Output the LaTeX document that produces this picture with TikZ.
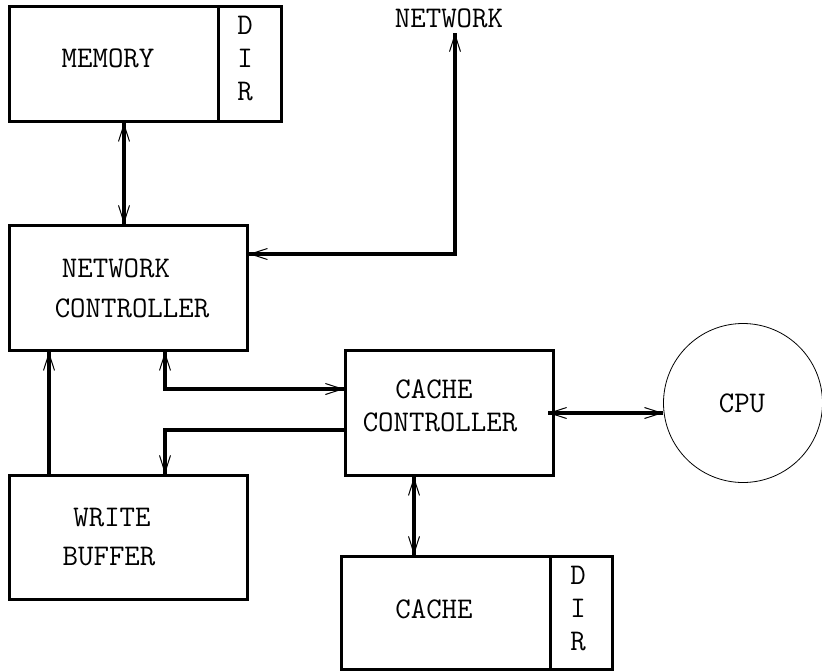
\documentclass[tikz,border=0pt]{standalone}
\usetikzlibrary{arrows.meta}
\begin{document}
\begin{tikzpicture}[x=1pt,y=-1pt,
  box/.style={draw,line width=2.8pt,anchor=north west,inner sep=0pt},
  lbl/.style={font=\fontsize{30}{40}\selectfont\ttfamily,inner sep=0pt},
  tipA/.tip={Straight Barb[length=17pt,width=11pt,line width=1pt]},
  conn/.style={line width=1pt,preaction={draw,line width=3.4pt,arrows=-}},
  connb/.style={line width=1pt,preaction={draw,line width=3.1pt,arrows=-}}]
\useasboundingbox (0,0) rectangle (822,670);
% boxes
\node[box,minimum width=209pt,minimum height=115pt] (mem) at (8,5) {};
\node[box,minimum width=63pt,minimum height=115pt] (memdir) at (217,5) {};
\node[box,minimum width=238pt,minimum height=125pt] (nc) at (8,224) {};
\node[box,minimum width=208pt,minimum height=125pt] (cc) at (344,349) {};
\node[box,minimum width=238pt,minimum height=124pt] (wb) at (8,474) {};
\node[box,minimum width=209pt,minimum height=113pt] (ca) at (340,555) {};
\node[box,minimum width=62pt,minimum height=113pt] (cadir) at (549,555) {};
\node[draw,circle,line width=0.8pt,minimum size=159pt,inner sep=0pt] (cpu) at (743,403) {};
% texts
\node[lbl] (tmem) at (108,58) {MEMORY};
\node[lbl,align=center] (tmd) at (245,59) {D\\[-7pt]I\\[-7pt]R};
\node[lbl] (tnet) at (449,18) {NETWORK};
\node[lbl] (tnc1) at (116,268) {NETWORK};
\node[lbl] (tnc2) at (132,308) {CONTROLLER};
\node[lbl] (tcc1) at (434,389) {CACHE};
\node[lbl] (tcc2) at (440,422) {CONTROLLER};
\node[lbl] (tcpu) at (742,403) {CPU};
\node[lbl] (twb1) at (112,518) {WRITE};
\node[lbl] (twb2) at (109,557) {BUFFER};
\node[lbl] (tca) at (434,609) {CACHE};
\node[lbl,align=center] (tcd) at (578,609) {D\\[-7pt]I\\[-7pt]R};
% helper coordinates
\coordinate (x49) at (49,0);
\coordinate (x124) at (124,0);
\coordinate (x165) at (165,0);
\coordinate (x414) at (414,0);
\coordinate (x455) at (455,0);
\coordinate (y254) at (0,254);
\coordinate (y389) at (0,389);
\coordinate (y430) at (0,430);
\coordinate (y413) at (0,413);
\coordinate (ntop) at (455,33);
\coordinate (ccl) at (548,413);
% connectors
\draw[conn,tipA-tipA] (mem.south -| x124) -- (nc.north -| x124);
\draw[connb,tipA-tipA] (ntop) -- (x455 |- y254) -- (nc.east |- y254);
\draw[conn,tipA-tipA] (nc.south -| x165) -- (x165 |- y389) -- (cc.west |- y389);
\draw[conn,-tipA] (cc.west |- y430) -- (x165 |- y430) -- (wb.north -| x165);
\draw[conn,-tipA] (wb.north -| x49) -- (nc.south -| x49);
\draw[conn,tipA-tipA] (ccl) -- (cpu.west |- y413);
\draw[conn,tipA-tipA] (cc.south -| x414) -- (ca.north -| x414);
\end{tikzpicture}
\end{document}
